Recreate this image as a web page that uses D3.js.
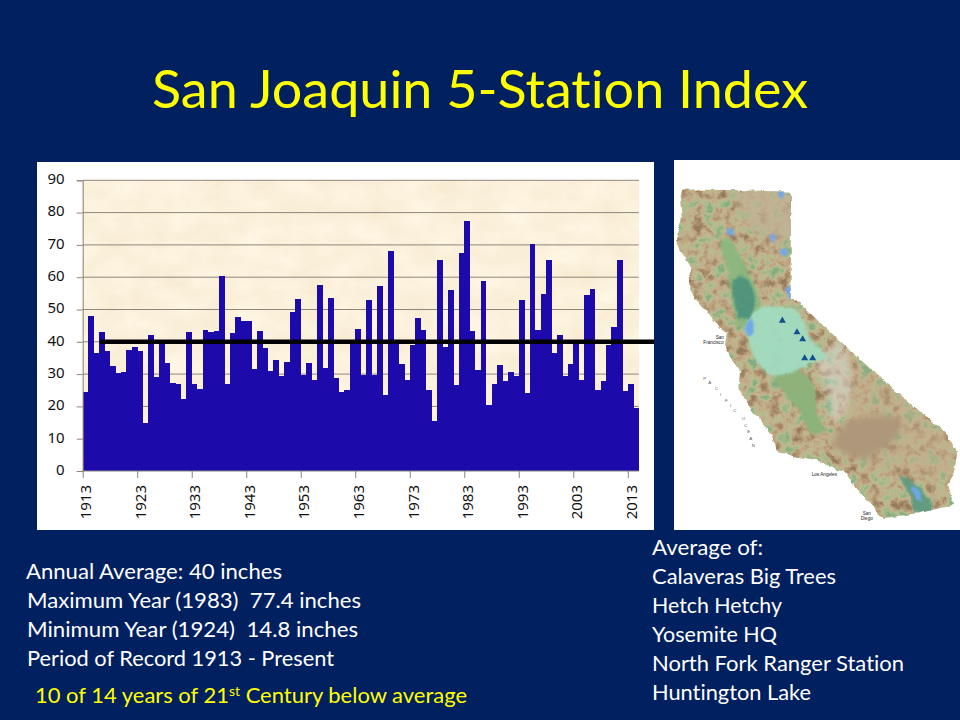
<!DOCTYPE html>
<html>
<head>
<meta charset="utf-8">
<title>San Joaquin 5-Station Index</title>
<script src="https://cdn.jsdelivr.net/npm/d3@7"></script>
<style>
  html, body { margin: 0; padding: 0; background: #002060; }
  svg { display: block; }
  .slide-text { font-family: Lato, "Open Sans", sans-serif; font-variant-ligatures: none; }
  .axis text { font-family: "Noto Sans", sans-serif; font-size: 15px; fill: #111; }
  .axis path, .axis line { stroke: #8a8580; }
  filter { color-interpolation-filters: sRGB; }
</style>
</head>
<body>
<svg id="chart" width="960" height="720"></svg>
<script>
// Chart data
const startYear = 1913;
const inches = [
  24.6, 48.0, 36.5, 43.0, 37.2, 32.5, 30.4, 30.7, 37.5, 38.4,
  37.2, 14.8, 42.1, 29.1, 39.9, 33.4, 27.2, 27.0, 22.3, 43.0,
  27.0, 25.4, 43.6, 43.0, 43.3, 60.4, 27.0, 42.7, 47.7, 46.4,
  46.4, 31.6, 43.3, 38.0, 31.0, 34.4, 29.4, 33.7, 49.2, 53.2,
  29.8, 33.4, 28.2, 57.6, 31.9, 53.6, 28.8, 24.5, 25.1, 40.0,
  44.0, 29.8, 53.0, 29.8, 57.3, 23.4, 68.1, 40.0, 33.1, 28.2,
  39.0, 47.4, 43.7, 25.1, 15.5, 65.3, 38.4, 56.0, 26.6, 67.4,
  77.4, 43.3, 31.3, 58.8, 20.4, 27.0, 32.8, 27.9, 30.6, 29.4,
  53.0, 24.1, 70.3, 43.6, 54.8, 65.3, 36.5, 42.1, 29.4, 33.1,
  40.0, 28.2, 54.5, 56.3, 25.1, 27.9, 39.0, 44.6, 65.3, 24.8,
  27.0, 19.5
];
const years = inches.map((d, i) => startYear + i);
const yTicks = [0, 10, 20, 30, 40, 50, 60, 70, 80, 90];
const xTicks = [1913, 1923, 1933, 1943, 1953, 1963, 1973, 1983, 1993, 2003, 2013];
const average = 40;

const titleText = "San Joaquin 5-Station Index";
const statLines = [
  "Annual Average: 40 inches",
  "Maximum Year (1983)  77.4 inches",
  "Minimum Year (1924)  14.8 inches",
  "Period of Record 1913 - Present"
];
const stationLines = [
  "Average of:",
  "Calaveras Big Trees",
  "Hetch Hetchy",
  "Yosemite HQ",
  "North Fork Ranger Station",
  "Huntington Lake"
];

// Map shapes in a 870x1140 map frame
const stateOutline = [[38,103],[200,106],[363,110],[362,430],[375,432],[480,530],[600,640],[720,745],[825,830],[845,865],[862,895],[850,960],[835,990],[850,1050],[745,1075],[640,1090],[622,1078],[610,1050],[585,1030],[560,1000],[525,950],[500,945],[440,915],[380,905],[320,890],[305,840],[265,790],[230,745],[205,700],[210,650],[180,605],[165,570],[170,535],[150,520],[120,480],[90,450],[62,410],[55,370],[65,340],[40,300],[18,255],[35,190],[30,130]];
const sacramentoValley = [[150,265],[175,250],[205,290],[240,360],[270,450],[240,510],[205,510],[185,430],[170,330]];
const sacramentoDelta = [[190,375],[225,365],[255,430],[240,490],[210,490],[190,420]];
const sanJoaquinBasin = [[225,520],[265,460],[330,455],[385,470],[420,550],[470,605],[420,625],[385,645],[300,660],[255,610],[235,550]];
const tulareBasin = [[310,660],[385,645],[430,690],[445,790],[470,825],[425,835],[390,770],[350,720]];
const highSierra = [[440,635],[510,560],[540,640],[530,760],[490,800],[470,690]];
const northPlateau = [[190,110],[360,112],[360,260],[270,240],[220,170]];
const eastDesert = [[500,620],[600,660],[820,840],[850,960],[700,950],[520,900],[540,780]];
const mojave = [[490,860],[540,800],[680,790],[690,830],[640,880],[580,910],[500,880]];
const saltonTrough = [[690,965],[720,975],[790,1060],[740,1075],[720,1020]];
const lakes = [
  [[322,110],[342,110],[335,132]],
  [[170,225],[190,222],[192,240],[175,240]],
  [[300,240],[315,240],[315,256],[302,256]],
  [[328,283],[348,283],[348,302],[332,300]],
  [[352,398],[368,398],[368,430],[355,428]],
  [[725,990],[750,1010],[755,1040],[735,1025]],
  [[225,520],[245,490],[250,530],[238,545]]
];
const stations = [[337,497],[381,532],[398,553],[404,610],[428,610]];
const placeNames = [
  ["San", 137, 552], ["Francisco", 100, 568],
  ["Los Angeles", 425, 962],
  ["San", 578, 1081], ["Diego", 572, 1096]
];
const oceanLetters = [
  ["P",100,675],["A",115,688],["C",135,705],["I",150,722],["F",165,740],["I",180,755],["C",190,770],
  ["O",215,795],["C",222,815],["E",232,835],["A",238,855],["N",245,875]
];

const svg = d3.select("#chart");
const defs = svg.append("defs");

// Parchment plot area fill
const parchment = defs.append("filter").attr("id", "parchment")
  .attr("x", 0).attr("y", 0).attr("width", 1).attr("height", 1);
parchment.append("feTurbulence").attr("type", "fractalNoise")
  .attr("baseFrequency", "0.03 0.045").attr("numOctaves", 3).attr("seed", 8);
parchment.append("feColorMatrix").attr("type", "matrix")
  .attr("values", "0.04 0 0 0 0.965  0.06 0 0 0 0.915  0.1 0 0 0 0.81  0 0 0 0 1");

// Terrain fill for the map
const terrain = defs.append("filter").attr("id", "terrain")
  .attr("x", 0).attr("y", 0).attr("width", 1).attr("height", 1);
terrain.append("feTurbulence").attr("type", "fractalNoise")
  .attr("baseFrequency", 0.03).attr("numOctaves", 5).attr("seed", 21);
terrain.append("feColorMatrix").attr("type", "matrix")
  .attr("values", "1.8 0 0 0 -0.4  1.8 0 0 0 -0.4  1.8 0 0 0 -0.4  0 0 0 0 1");
const terrainTable = terrain.append("feComponentTransfer");
terrainTable.append("feFuncR").attr("type", "table").attr("tableValues", "0.52 0.62 0.72 0.77 0.73 0.65 0.58");
terrainTable.append("feFuncG").attr("type", "table").attr("tableValues", "0.68 0.72 0.74 0.69 0.63 0.55 0.48");
terrainTable.append("feFuncB").attr("type", "table").attr("tableValues", "0.50 0.54 0.56 0.55 0.49 0.41 0.36");

defs.append("filter").attr("id", "soft").append("feGaussianBlur").attr("stdDeviation", 3);
defs.append("filter").attr("id", "softer").append("feGaussianBlur").attr("stdDeviation", 9);

// Slight wobble so traced shapes lose their straight edges
const wobble = defs.append("filter").attr("id", "wobble").attr("filterUnits", "userSpaceOnUse")
  .attr("x", 0).attr("y", 90).attr("width", 870).attr("height", 1020);
wobble.append("feTurbulence").attr("type", "fractalNoise")
  .attr("baseFrequency", 0.05).attr("numOctaves", 3).attr("seed", 4).attr("result", "w");
wobble.append("feDisplacementMap").attr("in", "SourceGraphic").attr("in2", "w")
  .attr("scale", 12).attr("xChannelSelector", "R").attr("yChannelSelector", "G");

// Slide title
svg.append("text").attr("class", "slide-text")
  .attr("x", 480).attr("y", 108)
  .attr("text-anchor", "middle")
  .attr("textLength", 656).attr("lengthAdjust", "spacingAndGlyphs")
  .attr("font-size", 52).attr("fill", "#ffff00")
  .text(titleText);

// Chart panel
svg.append("rect").attr("x", 37).attr("y", 162).attr("width", 617).attr("height", 368).attr("fill", "#fff");

const x = d3.scaleLinear().domain([startYear, years[years.length - 1] + 1]).range([82.7, 638.7]);
const y = d3.scaleLinear().domain([0, 90]).range([471, 180.3]);

svg.append("rect")
  .attr("x", x.range()[0]).attr("y", y(90))
  .attr("width", x.range()[1] - x.range()[0]).attr("height", y(0) - y(90))
  .attr("filter", "url(#parchment)");

svg.append("g").selectAll("line").data(yTicks.slice(1)).join("line")
  .attr("x1", x.range()[0]).attr("x2", x.range()[1])
  .attr("y1", d => y(d)).attr("y2", d => y(d))
  .attr("stroke", "#8d867c").attr("stroke-width", 1);

svg.append("g").attr("shape-rendering", "crispEdges")
  .selectAll("rect").data(years).join("rect")
  .attr("x", d => x(d))
  .attr("width", x(startYear + 1) - x(startYear) + 0.3)
  .attr("y", (d, i) => y(inches[i]))
  .attr("height", (d, i) => y(0) - y(inches[i]))
  .attr("fill", "#1c0aab");

const yAxis = svg.append("g").attr("class", "axis")
  .attr("transform", `translate(${x.range()[0]},0)`)
  .call(d3.axisLeft(y).tickValues(yTicks).tickSize(6).tickPadding(12).tickFormat(d3.format("d")));
yAxis.selectAll("text").attr("dy", "0.22em");

const xAxis = svg.append("g").attr("class", "axis")
  .attr("transform", `translate(0,${y(0)})`)
  .call(d3.axisBottom(x).tickValues(xTicks).tickSize(7).tickSizeOuter(0).tickFormat(d3.format("d")));
xAxis.select(".domain").attr("d", `M${x.range()[0]},0H${x.range()[1]}`);
xAxis.selectAll("text")
  .attr("text-anchor", "end")
  .attr("transform", "translate(3,14) rotate(-90)")
  .attr("x", 0).attr("y", 0).attr("dy", "0.35em");

// Average line runs out to the panel edge
svg.append("line")
  .attr("x1", x(1916.2)).attr("x2", 654)
  .attr("y1", y(average)).attr("y2", y(average))
  .attr("stroke", "#000").attr("stroke-width", 4.5);

// Map panel
svg.append("rect").attr("x", 674).attr("y", 160).attr("width", 286).attr("height", 370).attr("fill", "#fff");

const mapG = svg.append("g").attr("transform", "translate(670,155) scale(0.3333)");
const line = d3.line().curve(d3.curveCatmullRomClosed.alpha(0.5));
const sharp = d3.line().curve(d3.curveLinearClosed);

defs.append("clipPath").attr("id", "state").append("path").attr("d", sharp(stateOutline));
const wobbled = mapG.append("g").attr("filter", "url(#wobble)");
const state = wobbled.append("g").attr("clip-path", "url(#state)");

state.append("rect").attr("x", 0).attr("y", 90).attr("width", 870).attr("height", 1020).attr("filter", "url(#terrain)");

const patch = (pts, fill, opacity, blur) => state.append("path")
  .attr("d", line(pts)).attr("fill", fill).attr("opacity", opacity)
  .attr("filter", blur ? `url(#${blur})` : null);

patch(northPlateau, "#c0b296", 0.7, "softer");
patch(eastDesert, "#c4ae8c", 0.45, "softer");
patch(mojave, "#ae977a", 1, "softer");
patch(highSierra, "#dcdcd6", 0.5, "softer");
patch(sacramentoValley, "#8cb87f", 0.95, "soft");
patch(sacramentoDelta, "#4d937d", 0.95, "soft");
patch(tulareBasin, "#8db27a", 1, "soft");
patch(sanJoaquinBasin, "#a2dcc0", 0.95, "soft");
patch(saltonTrough, "#5f9a80", 0.95, "soft");
lakes.forEach(l => patch(l, "#6fa8e8", 1, "soft"));

mapG.append("g").selectAll("path").data(stations).join("path")
  .attr("d", d3.symbol().type(d3.symbolTriangle).size(190))
  .attr("transform", d => `translate(${d[0]},${d[1]})`)
  .attr("fill", "#14508f");

mapG.append("g").selectAll("text").data(placeNames).join("text")
  .attr("x", d => d[1]).attr("y", d => d[2])
  .attr("font-family", "Liberation Sans, sans-serif").attr("font-size", 14).attr("fill", "#222")
  .text(d => d[0]);

mapG.append("g").selectAll("text").data(oceanLetters).join("text")
  .attr("x", d => d[1]).attr("y", d => d[2])
  .attr("font-family", "Liberation Sans, sans-serif").attr("font-size", 13).attr("fill", "#555")
  .text(d => d[0]);

// Text under the chart
const statBase = [579, 608, 637, 666];
const statWidth = [256, 334, 331, 307];
svg.append("g").selectAll("text").data(statLines).join("text")
  .attr("class", "slide-text")
  .attr("x", (d, i) => i === 0 ? 26 : 27).attr("y", (d, i) => statBase[i])
  .attr("font-size", 20.5).attr("fill", "#fff")
  .style("white-space", "pre")
  .attr("textLength", (d, i) => statWidth[i]).attr("lengthAdjust", "spacingAndGlyphs")
  .text(d => d);

const note = svg.append("text").attr("class", "slide-text")
  .attr("x", 35).attr("y", 703)
  .attr("font-size", 20.5).attr("fill", "#ffff00")
  .attr("textLength", 432).attr("lengthAdjust", "spacingAndGlyphs");
note.append("tspan").text("10 of 14 years of 21");
note.append("tspan").attr("dy", -7).attr("font-size", 13).text("st");
note.append("tspan").attr("dy", 7).text(" Century below average");

const stationBase = [555, 584, 613, 642, 671, 700];
const stationWidth = [111, 184, 130, 125, 252, 159];
svg.append("g").selectAll("text").data(stationLines).join("text")
  .attr("class", "slide-text")
  .attr("x", 652).attr("y", (d, i) => stationBase[i])
  .attr("font-size", 20.5).attr("fill", "#fff")
  .attr("textLength", (d, i) => stationWidth[i]).attr("lengthAdjust", "spacingAndGlyphs")
  .text(d => d);
</script>
</body>
</html>
